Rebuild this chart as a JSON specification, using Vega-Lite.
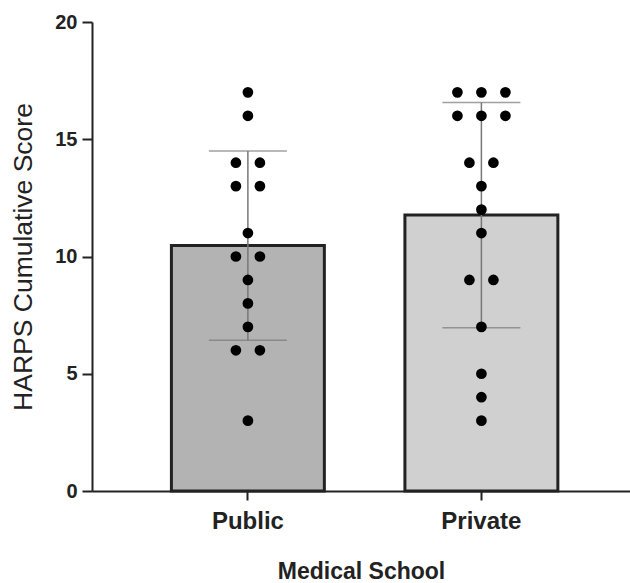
{
  "$schema": "https://vega.github.io/schema/vega-lite/v6.json",
  "autosize": {"type": "none"},
  "padding": {"left": 92, "top": 22, "right": 0, "bottom": 92},
  "width": 538,
  "height": 469,
  "background": "white",
  "config": {
    "view": {"stroke": null},
    "font": "Liberation Sans",
    "axis": {"domainColor": "#222", "domainWidth": 2, "tickColor": "#222", "tickWidth": 2, "grid": false, "labelColor": "#222", "titleColor": "#222"}
  },
  "data": {"values": [
    {"school": "Public", "score": 17, "slot": 0},
    {"school": "Public", "score": 16, "slot": 0},
    {"school": "Public", "score": 14, "slot": -1},
    {"school": "Public", "score": 14, "slot": 1},
    {"school": "Public", "score": 13, "slot": -1},
    {"school": "Public", "score": 13, "slot": 1},
    {"school": "Public", "score": 11, "slot": 0},
    {"school": "Public", "score": 10, "slot": -1},
    {"school": "Public", "score": 10, "slot": 1},
    {"school": "Public", "score": 9, "slot": 0},
    {"school": "Public", "score": 8, "slot": 0},
    {"school": "Public", "score": 7, "slot": 0},
    {"school": "Public", "score": 6, "slot": -1},
    {"school": "Public", "score": 6, "slot": 1},
    {"school": "Public", "score": 3, "slot": 0},
    {"school": "Private", "score": 17, "slot": -2},
    {"school": "Private", "score": 17, "slot": 0},
    {"school": "Private", "score": 17, "slot": 2},
    {"school": "Private", "score": 16, "slot": -2},
    {"school": "Private", "score": 16, "slot": 0},
    {"school": "Private", "score": 16, "slot": 2},
    {"school": "Private", "score": 14, "slot": -1},
    {"school": "Private", "score": 14, "slot": 1},
    {"school": "Private", "score": 13, "slot": 0},
    {"school": "Private", "score": 12, "slot": 0},
    {"school": "Private", "score": 11, "slot": 0},
    {"school": "Private", "score": 9, "slot": -1},
    {"school": "Private", "score": 9, "slot": 1},
    {"school": "Private", "score": 7, "slot": 0},
    {"school": "Private", "score": 5, "slot": 0},
    {"school": "Private", "score": 4, "slot": 0},
    {"school": "Private", "score": 3, "slot": 0}
  ]},
  "resolve": {"scale": {"xOffset": "independent"}},
  "layer": [
    {
      "mark": {"type": "bar", "stroke": "#222", "strokeWidth": 3},
      "encoding": {
        "x": {
          "field": "school", "type": "nominal", "sort": ["Public", "Private"],
          "scale": {"type": "band", "paddingInner": 0.345, "paddingOuter": 0.3245, "align": 0.524},
          "axis": {"title": "Medical School", "labelAngle": 0, "labelFontSize": 24, "labelFontWeight": "bold", "labelPadding": 9, "tickSize": 9, "titleFontSize": 23, "titleFontWeight": "bold", "titlePadding": 27}
        },
        "y": {"aggregate": "mean", "field": "score", "type": "quantitative", "title": "HARPS Cumulative Score",
          "scale": {"domain": [0, 20]},
          "axis": {"values": [0, 5, 10, 15, 20], "labelFontSize": 20, "labelFontWeight": "bold", "tickSize": 10, "labelPadding": 5, "titleFontSize": 26.5, "titleFontWeight": "normal", "titlePadding": 17}},
        "fill": {"field": "school", "type": "nominal", "scale": {"domain": ["Public", "Private"], "range": ["#b3b3b3", "#d0d0d0"]}, "legend": null}
      }
    },
    {
      "mark": {"type": "errorbar", "extent": "stdev", "ticks": {"size": 78, "color": "#777", "thickness": 1.5}, "rule": {"color": "#777", "strokeWidth": 1.5}},
      "encoding": {
        "x": {"field": "school", "type": "nominal", "sort": ["Public", "Private"], "title": "Medical School", "scale": {"type": "band"}},
        "y": {"field": "score", "type": "quantitative", "title": "HARPS Cumulative Score"}
      }
    },
    {
      "mark": {"type": "point", "filled": true, "color": "#000", "opacity": 1, "size": 115},
      "encoding": {
        "x": {"field": "school", "type": "nominal", "sort": ["Public", "Private"], "title": "Medical School", "scale": {"type": "band"}},
        "y": {"field": "score", "type": "quantitative", "title": "HARPS Cumulative Score"},
        "xOffset": {"field": "slot", "type": "quantitative", "scale": {"domain": [-2, 2], "range": [52.5, 100.5]}}
      }
    }
  ]
}
